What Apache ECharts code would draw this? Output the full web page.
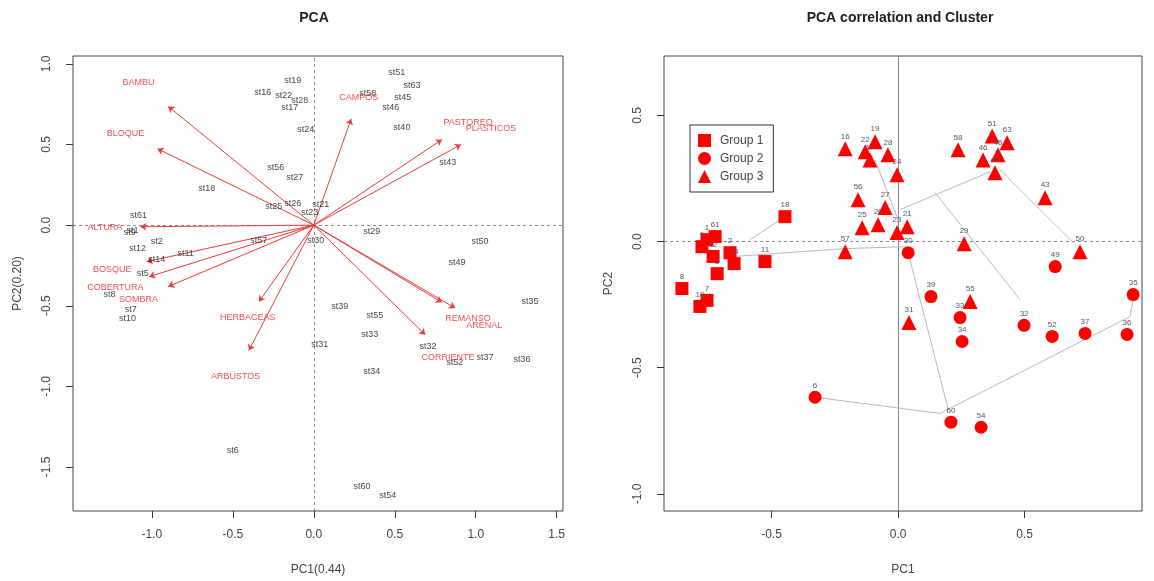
<!DOCTYPE html>
<html>
<head>
<meta charset="utf-8">
<script src="https://cdn.jsdelivr.net/npm/echarts@6/dist/echarts.min.js"></script>
<style>
  html, body { margin: 0; padding: 0; background: #fff; }
  #chart { width: 1154px; height: 581px; }
</style>
</head>
<body>
<div id="chart"></div>
<script>
// ---- Site scores on PC1 / PC2 (biplot) ----
const siteNames = ['st51','st63','st45','st46','st58','st40','st43','st19','st16','st22','st28','st17','st24',
  'st56','st27','st18','st25','st26','st21','st23','st61','st1','st9','st2','st12','st11','st14','st57','st5',
  'st8','st7','st10','st30','st29','st50','st49','st35','st39','st55','st33','st32','st31','st34','st52','st37',
  'st36','st6','st60','st54'];
const sitePC1 = [0.513,0.606,0.550,0.476,0.334,0.544,0.828,-0.130,-0.315,-0.185,-0.087,-0.148,-0.049,
  -0.235,-0.117,-0.661,-0.247,-0.130,0.043,-0.025,-1.082,-1.119,-1.137,-0.970,-1.088,-0.791,-0.970,-0.340,-1.057,
  -1.261,-1.131,-1.150,0.012,0.358,1.026,0.884,1.335,0.161,0.377,0.346,0.705,0.037,0.358,0.871,1.057,
  1.286,-0.501,0.297,0.457];
const sitePC2 = [0.944,0.863,0.789,0.727,0.814,0.603,0.387,0.900,0.820,0.801,0.770,0.727,0.591,
  0.356,0.294,0.226,0.114,0.133,0.127,0.077,0.059,-0.034,-0.046,-0.102,-0.145,-0.176,-0.213,-0.096,-0.300,
  -0.430,-0.523,-0.579,-0.096,-0.040,-0.102,-0.232,-0.473,-0.504,-0.560,-0.678,-0.752,-0.739,-0.907,-0.851,-0.820,
  -0.832,-1.395,-1.624,-1.674];

// ---- Variable loadings (label positions; arrows reach 83% of them) ----
const varNames = ['BAMBU','BLOQUE','ALTURA','BOSQUE','COBERTURA','SOMBRA','HERBACEAS','ARBUSTOS',
  'CAMPOS','PASTOREO','PLASTICOS','REMANSO','ARENAL','CORRIENTE'];
const varPC1 = [-1.083,-1.163,-1.290,-1.244,-1.225,-1.083,-0.408,-0.483,0.278,0.953,1.095,0.953,1.052,0.829];
const varPC2 = [0.887,0.571,-0.012,-0.273,-0.385,-0.459,-0.571,-0.937,0.794,0.639,0.602,-0.577,-0.620,-0.819];
const ARROW_SHARE = 0.83;

// ---- Correlation-scale positions, by cluster ----
const g1Ids = ['8','10','7','9','61','1','12','5','2','14','11','18'];
const g1PC1 = [-0.854,-0.783,-0.755,-0.775,-0.723,-0.755,-0.731,-0.715,-0.664,-0.648,-0.526,-0.447];
const g1PC2 = [-0.186,-0.257,-0.233,-0.020,0.020,0.008,-0.059,-0.127,-0.044,-0.087,-0.079,0.099];

const g2Ids = ['6','30','39','33','34','32','52','37','36','35','49','60','54'];
const g2PC1 = [-0.328,0.040,0.130,0.245,0.253,0.498,0.609,0.739,0.905,0.929,0.621,0.209,0.328];
const g2PC2 = [-0.617,-0.044,-0.218,-0.301,-0.396,-0.332,-0.376,-0.364,-0.368,-0.210,-0.099,-0.716,-0.736];

const g3Ids = ['16','19','22','17','28','24','56','27','25','26','23','21','57','29','58','51','63','46',
  '45','40','43','50','55','31'];
const g3PC1 = [-0.209,-0.091,-0.130,-0.111,-0.040,-0.004,-0.158,-0.051,-0.142,-0.079,-0.004,0.036,-0.209,
  0.261,0.237,0.372,0.431,0.336,0.395,0.383,0.581,0.719,0.285,0.043];
const g3PC2 = [0.368,0.396,0.356,0.324,0.344,0.265,0.166,0.135,0.055,0.067,0.036,0.059,-0.040,
  -0.008,0.364,0.419,0.392,0.324,0.344,0.273,0.174,-0.040,-0.237,-0.321];

// Tree links between clusters: [x1, y1, x2, y2]
const treeEdges = [
  [-0.447,0.099,-0.585,0.008],
  [-0.652,-0.059,-0.217,-0.028],
  [-0.217,-0.028,0.028,-0.020],
  [-0.091,0.324,0.000,0.087],
  [0.008,0.127,0.364,0.277],
  [0.403,0.285,0.692,-0.004],
  [0.146,0.194,0.482,-0.230],
  [0.040,-0.044,0.198,-0.665],
  [-0.328,-0.617,0.166,-0.681],
  [0.166,-0.681,0.917,-0.297],
  [0.917,-0.297,0.929,-0.230]
];

// Axis ticks
const leftXTicks = [-1.0,-0.5,0.0,0.5,1.0,1.5];
const leftYTicks = [-1.5,-1.0,-0.5,0.0,0.5,1.0];
const rightXTicks = [-0.5,0.0,0.5];
const rightYTicks = [-1.0,-0.5,0.0,0.5];

const FONT = 'Liberation Sans, Arial, sans-serif';
const AXIS_COLOR = '#333';
const fmt = v => v.toFixed(1);

function xAxisDef(gridIndex, min, max, ticks, name) {
  return {
    gridIndex, type: 'value', min, max,
    axisLine: { show: false, onZero: false },
    splitLine: { show: false },
    axisTick: { show: true, length: 7, customValues: ticks, lineStyle: { color: AXIS_COLOR } },
    axisLabel: { customValues: ticks, formatter: fmt, margin: 18, fontSize: 12, color: '#444', fontFamily: FONT },
    name, nameLocation: 'middle', nameGap: 53,
    nameTextStyle: { fontSize: 12, color: '#444', fontFamily: FONT }
  };
}
function yAxisDef(gridIndex, min, max, ticks, name, gap) {
  return {
    gridIndex, type: 'value', min, max,
    axisLine: { show: false, onZero: false },
    splitLine: { show: false },
    axisTick: { show: true, length: 7, customValues: ticks, lineStyle: { color: AXIS_COLOR } },
    axisLabel: { customValues: ticks, formatter: fmt, rotate: 90, margin: 20, fontSize: 12, color: '#444', fontFamily: FONT },
    name, nameLocation: 'middle', nameGap: gap,
    nameTextStyle: { fontSize: 12, color: '#444', fontFamily: FONT }
  };
}

const refLine = (dashed) => ({ color: '#888', width: 1, type: dashed ? [3, 3] : 'solid' });

const siteData = siteNames.map((n, i) => [sitePC1[i], sitePC2[i], n]);
const varLabelData = varNames.map((n, i) => [varPC1[i], varPC2[i], n]);
const arrowData = varNames.map((n, i) => ({ coords: [[0, 0], [varPC1[i] * ARROW_SHARE, varPC2[i] * ARROW_SHARE]] }));
const edgeData = treeEdges.map(e => ({ coords: [[e[0], e[1]], [e[2], e[3]]] }));

function groupSeries(name, symbol, size, ids, xs, ys) {
  return {
    name, type: 'scatter', xAxisIndex: 1, yAxisIndex: 1, symbol, symbolSize: size, z: 5,
    itemStyle: { color: '#ff0000', opacity: 1 },
    label: {
      show: true, position: 'top', distance: 1, formatter: p => p.data[2],
      fontSize: 8, color: '#556', fontFamily: FONT
    },
    data: ids.map((id, i) => [xs[i], ys[i], id])
  };
}

const chart = echarts.init(document.getElementById('chart'), null, { renderer: 'canvas' });
chart.setOption({
  backgroundColor: '#fff',
  animation: false,
  textStyle: { fontFamily: FONT },
  graphic: [
    { type: 'text', x: 314, y: 18, style: { text: 'PCA', align: 'center', verticalAlign: 'middle', font: 'bold 14px ' + FONT, fill: '#222' } },
    { type: 'text', x: 900, y: 18, style: { text: 'PCA correlation and Cluster', align: 'center', verticalAlign: 'middle', font: 'bold 14px ' + FONT, fill: '#222' } }
  ],
  legend: {
    left: 690, top: 125, orient: 'vertical',
    borderColor: '#333', borderWidth: 1, padding: [9, 10, 9, 8],
    itemGap: 5, itemWidth: 13, itemHeight: 13,
    textStyle: { fontSize: 12, color: '#444', fontFamily: FONT, padding: [0, 0, 0, 4] },
    selectedMode: false,
    data: [
      { name: 'Group 1', icon: 'rect' },
      { name: 'Group 2', icon: 'circle' },
      { name: 'Group 3', icon: 'triangle' }
    ]
  },
  grid: [
    { left: 73, top: 56, width: 490, height: 456, show: true, borderColor: '#444', borderWidth: 1, backgroundColor: 'transparent' },
    { left: 664, top: 56, width: 478, height: 456, show: true, borderColor: '#444', borderWidth: 1, backgroundColor: 'transparent' }
  ],
  xAxis: [
    xAxisDef(0, -1.487, 1.539, leftXTicks, 'PC1(0.44)'),
    xAxisDef(1, -0.925, 0.964, rightXTicks, 'PC1')
  ],
  yAxis: [
    yAxisDef(0, -1.773, 1.049, leftYTicks, 'PC2(0.20)', 49),
    yAxisDef(1, -1.068, 0.736, rightYTicks, 'PC2', 49)
  ],
  series: [
    {
      type: 'scatter', xAxisIndex: 0, yAxisIndex: 0, symbol: 'circle', symbolSize: 1, z: 4,
      itemStyle: { color: 'rgba(0,0,0,0)' },
      label: { show: true, position: 'inside', formatter: p => p.data[2], fontSize: 9, color: '#111', fontFamily: FONT },
      data: siteData,
      markLine: {
        silent: true, symbol: 'none', label: { show: false }, z: 1,
        data: [
          { yAxis: 0, lineStyle: refLine(true) },
          { xAxis: 0, lineStyle: refLine(true) }
        ]
      }
    },
    {
      type: 'lines', coordinateSystem: 'cartesian2d', xAxisIndex: 0, yAxisIndex: 0, z: 3,
      symbol: ['none', 'arrow'], symbolSize: 6,
      lineStyle: { color: '#e83c3c', width: 1, opacity: 1 },
      data: arrowData
    },
    {
      type: 'scatter', xAxisIndex: 0, yAxisIndex: 0, symbol: 'circle', symbolSize: 1, z: 4,
      itemStyle: { color: 'rgba(0,0,0,0)' },
      label: { show: true, position: 'inside', formatter: p => p.data[2], fontSize: 9, color: '#ee2222', fontFamily: FONT },
      data: varLabelData
    },
    {
      type: 'lines', coordinateSystem: 'cartesian2d', xAxisIndex: 1, yAxisIndex: 1, z: 2,
      symbol: 'none',
      lineStyle: { color: '#b8b8b8', width: 1, opacity: 1 },
      data: edgeData,
      markLine: {
        silent: true, symbol: 'none', label: { show: false }, z: 1,
        data: [
          { yAxis: 0, lineStyle: refLine(true) },
          { xAxis: 0, lineStyle: refLine(false) }
        ]
      }
    },
    groupSeries('Group 1', 'rect', 13, g1Ids, g1PC1, g1PC2),
    groupSeries('Group 2', 'circle', 13, g2Ids, g2PC1, g2PC2),
    groupSeries('Group 3', 'triangle', 15, g3Ids, g3PC1, g3PC2)
  ]
});
</script>
</body>
</html>
